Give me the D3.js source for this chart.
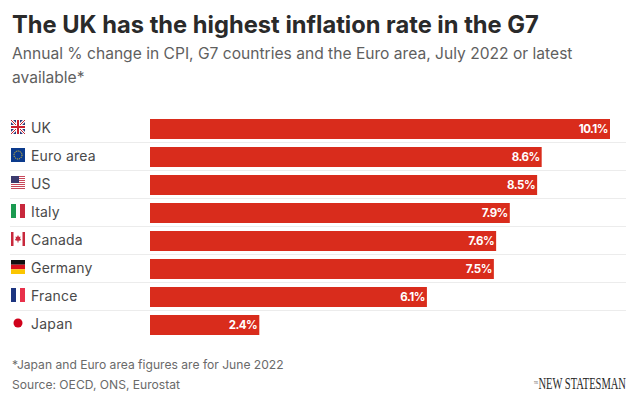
<!DOCTYPE html>
<html><head><meta charset="utf-8">
<script src="https://cdnjs.cloudflare.com/ajax/libs/d3/7.8.5/d3.min.js"></script>
<style>html,body{margin:0;padding:0;background:#fff}svg{display:block}text{font-family:Inter,"Open Sans",sans-serif}</style>
</head><body><svg id="c" width="635" height="400"></svg>
<script>
const categories=["UK","Euro area","US","Italy","Canada","Germany","France","Japan"];
const values=[10.1,8.6,8.5,7.9,7.6,7.55,6.08,2.4];
const valueLabels=["10.1%","8.6%","8.5%","7.9%","7.6%","7.5%","6.1%","2.4%"];
const flagKeys=["uk","eu","us","it","ca","de","fr","jp"];
const svg=d3.select("#c");
const x=d3.scaleLinear().domain([0,10.1]).range([150,610]);
const y=d3.scaleBand().domain(categories).range([115,339]).paddingInner(0.2857).paddingOuter(0.143);
svg.append("text").attr("x",12).attr("y",33).attr("font-size",23.7).attr("font-weight",700).attr("fill","#2a2a2a").text("The UK has the highest inflation rate in the G7");
const sub=svg.append("g").attr("font-size",15.6).attr("fill","#5f5f5f");
sub.append("text").attr("x",12).attr("y",59).text("Annual % change in CPI, G7 countries and the Euro area, July 2022 or latest");
sub.append("text").attr("x",12).attr("y",83).text("available*");
const rows=svg.append("g").selectAll("g").data(categories).join("g");
rows.filter((d,i)=>i<categories.length-1).append("line")
 .attr("x1",10).attr("x2",626)
 .attr("y1",d=>y(d)+y.bandwidth()+3.5).attr("y2",d=>y(d)+y.bandwidth()+3.5)
 .attr("stroke","#ececec");
rows.append("rect").attr("x",x(0)).attr("y",d=>y(d)).attr("height",y.bandwidth())
 .attr("width",(d,i)=>x(values[i])-x(0)).attr("fill","#d92c1c");
rows.append("text").attr("x",(d,i)=>x(values[i])-2).attr("y",d=>y(d)+y.bandwidth()/2+3.8)
 .attr("text-anchor","end").attr("font-size",11.5).attr("font-weight",700).attr("letter-spacing",-0.5).attr("fill","#fff")
 .text((d,i)=>valueLabels[i]);
rows.append("text").attr("x",31).attr("y",d=>y(d)+y.bandwidth()/2+4).attr("font-size",14).attr("fill","#4a4a4a").attr("letter-spacing",0.2).text(d=>d);
function flag(g,k){
 const w=14,h=14;
 const r=(a,b,c,d,f)=>g.append("rect").attr("x",a).attr("y",b).attr("width",c).attr("height",d).attr("fill",f);
 const l=(a,b,c,d,f,s)=>g.append("line").attr("x1",a).attr("y1",b).attr("x2",c).attr("y2",d).attr("stroke",f).attr("stroke-width",s);
 if(k==="uk"){r(0,0,w,h,"#2b3a78");l(0,0,w,h,"#fff",3);l(w,0,0,h,"#fff",3);l(0,0,w,h,"#c8202f",1);l(w,0,0,h,"#c8202f",1);r(5,0,4,h,"#fff");r(0,5,w,4,"#fff");r(6,0,2,h,"#c8202f");r(0,6,w,2,"#c8202f");}
 if(k==="eu"){r(0,0,w,h,"#0b3a8c");g.append("circle").attr("cx",7).attr("cy",7).attr("r",4).attr("fill","none").attr("stroke","#e8c72e").attr("stroke-width",1).attr("stroke-dasharray","1.2 0.8");}
 if(k==="us"){r(0,0,w,h,"#fff");for(let i=0;i<7;i++)r(0,i*2,w,1,"#c8485a");r(0,0,8,7,"#3c3b6e");}
 if(k==="it"){r(0,0,5,h,"#1a9a50");r(5,0,4,h,"#fff");r(9,0,5,h,"#c8283c");}
 if(k==="ca"){r(0,0,w,h,"#fff");r(0,0,2.5,h,"#c8283c");r(11.5,0,2.5,h,"#c8283c");g.append("path").attr("d","M7 3l1 2 1.5-.5-.5 2.5 1-.3-.5 1.8-2 .3v1.7h-1V8.800l-2-.3-.5-1.800 1 .3-.5-2.500 1.500.5z").attr("fill","#c8283c");}
 if(k==="de"){r(0,0,w,4.7,"#111");r(0,4.7,w,4.6,"#d8101c");r(0,9.3,w,4.7,"#fbc600");}
 if(k==="fr"){r(0,0,5,h,"#1d3580");r(5,0,4,h,"#fff");r(9,0,5,h,"#e8304a");}
 if(k==="jp"){g.append("circle").attr("cx",7).attr("cy",7).attr("r",4.5).attr("fill","#d0021b");}
}
rows.append("g").attr("transform",d=>`translate(11,${y(d)+y.bandwidth()/2-9})`).each(function(d,i){flag(d3.select(this),flagKeys[i]);});
const foot=svg.append("g").attr("font-size",12.1).attr("fill","#6a6a6a");
foot.append("text").attr("x",12).attr("y",369).text("*Japan and Euro area figures are for June 2022");
foot.append("text").attr("x",12).attr("y",389).text("Source: OECD, ONS, Eurostat");
function logo(str,px,py,size,width,fill){
 const t=svg.append("text").style("font-family","'Liberation Serif',serif").attr("font-size",size).attr("fill",fill).text(str);
 const sx=width/t.node().getComputedTextLength();
 t.attr("transform",`translate(${px},${py}) scale(${sx},1)`);
}
logo("NEW STATESMAN",538.5,389,17,87.5,"#2a2a2a");
logo("THE",534,384,3,4,"#333");
</script></body></html>
